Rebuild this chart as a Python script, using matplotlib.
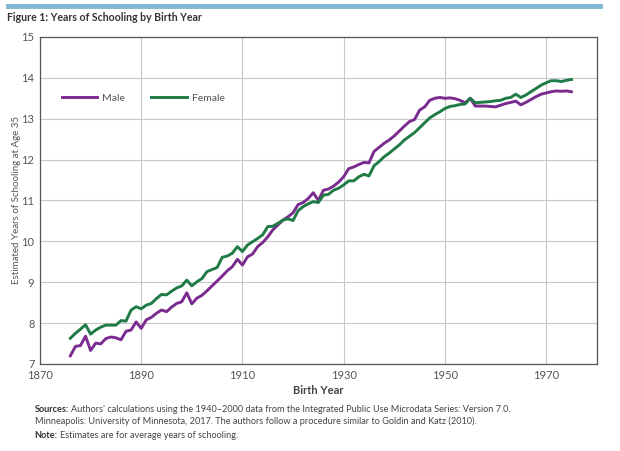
import numpy as np
import matplotlib
matplotlib.use("Agg")
import matplotlib.pyplot as plt
from matplotlib.lines import Line2D
from matplotlib import font_manager

# birth years 1876-1975
years = list(range(1876, 1976))

male = [7.20, 7.43, 7.45, 7.68, 7.33, 7.51, 7.49, 7.62, 7.66, 7.64,
        7.59, 7.80, 7.83, 8.03, 7.87, 8.08, 8.14, 8.24, 8.32, 8.28,
        8.39, 8.48, 8.52, 8.74, 8.47, 8.61, 8.68, 8.79, 8.91, 9.03,
        9.15, 9.28, 9.38, 9.56, 9.42, 9.62, 9.69, 9.87, 9.97, 10.11,
        10.28, 10.40, 10.52, 10.60, 10.70, 10.90, 10.95, 11.05, 11.19, 11.00,
        11.25, 11.28, 11.35, 11.45, 11.58, 11.78, 11.82, 11.88, 11.93, 11.92,
        12.20, 12.30, 12.40, 12.48, 12.58, 12.70, 12.82, 12.93, 12.98, 13.21,
        13.29, 13.45, 13.50, 13.52, 13.50, 13.51, 13.49, 13.45, 13.39, 13.50,
        13.31, 13.31, 13.31, 13.30, 13.29, 13.33, 13.37, 13.40, 13.43, 13.34,
        13.40, 13.47, 13.54, 13.60, 13.63, 13.66, 13.68, 13.67, 13.68, 13.66]

female = [7.63, 7.75, 7.85, 7.96, 7.73, 7.83, 7.90, 7.95, 7.95, 7.95,
          8.06, 8.05, 8.32, 8.40, 8.35, 8.44, 8.48, 8.60, 8.70, 8.69,
          8.78, 8.86, 8.91, 9.05, 8.91, 9.01, 9.09, 9.26, 9.31, 9.36,
          9.61, 9.64, 9.71, 9.87, 9.75, 9.91, 9.99, 10.07, 10.16, 10.36,
          10.37, 10.44, 10.52, 10.55, 10.51, 10.75, 10.85, 10.92, 10.97, 10.95,
          11.13, 11.15, 11.25, 11.30, 11.38, 11.48, 11.48, 11.58, 11.64, 11.60,
          11.85, 11.95, 12.07, 12.16, 12.26, 12.36, 12.48, 12.57, 12.66, 12.78,
          12.90, 13.02, 13.10, 13.17, 13.25, 13.30, 13.32, 13.35, 13.36, 13.50,
          13.39, 13.40, 13.41, 13.42, 13.44, 13.45, 13.50, 13.52, 13.60, 13.52,
          13.58, 13.66, 13.74, 13.82, 13.88, 13.93, 13.93, 13.91, 13.94, 13.96]

x_ticks = [1870, 1890, 1910, 1930, 1950, 1970]
y_ticks = [7, 8, 9, 10, 11, 12, 13, 14, 15]

male_color = "#7a2b8f"
female_color = "#1e7b45"
text_gray = "#555555"

# narrow font for the title and notes if it is there
names = set(f.name for f in font_manager.fontManager.ttflist)
narrow = ["Liberation Sans Narrow", "Lato"] if "Liberation Sans Narrow" in names else ["Lato"]

plt.rcParams["font.family"] = ["Lato", "DejaVu Sans"]

fig = plt.figure(figsize=(6.2, 4.51), dpi=100)
ax = fig.add_axes([0.0645, 0.193, 0.898, 0.725])

ax.plot(years, male, color=male_color, linewidth=2.1, label="Male")
ax.plot(years, female, color=female_color, linewidth=2.1, label="Female")

ax.set_xlim(1870, 1980)
ax.set_ylim(7, 15)
ax.set_xticks(x_ticks)
ax.set_yticks(y_ticks)
ax.grid(True, color="#c8c8c8", linewidth=0.8)
ax.set_axisbelow(True)
ax.tick_params(axis="both", length=0, labelsize=8, labelcolor=text_gray, pad=4)
for s in ax.spines.values():
    s.set_color("#555555")
    s.set_linewidth(0.9)

ax.set_xlabel("Birth Year", fontsize=8, fontweight="bold", color="#444444", labelpad=3)
ax.set_ylabel("Estimated Years of Schooling at Age 35", fontsize=7, color=text_gray, labelpad=0)

ax.legend(loc="center left", bbox_to_anchor=(0.022, 0.813), ncol=2, frameon=False,
          fontsize=7.5, handlelength=3.4, columnspacing=2.5, handletextpad=0.5,
          labelcolor="#555555")

# header bar and title
fig.add_artist(Line2D([0.013, 0.968], [0.987, 0.987], color="#7fb6d2", linewidth=3.5,
                      transform=fig.transFigure))
fig.text(0.012, 0.962, "Figure 1: Years of Schooling by Birth Year", fontsize=7.6,
         fontweight="bold", color="#333333", va="center", ha="left", family=narrow)

# notes, with bold lead words
renderer = fig.canvas.get_renderer()

def note(x, y, bold, rest):
    t = fig.text(x, y, bold, fontsize=6.6, fontweight="bold", color="#333333",
                 va="center", family=narrow)
    w = t.get_window_extent(renderer).width / fig.bbox.width
    fig.text(x + w + 0.004, y, rest, fontsize=6.6, color="#444444",
             va="center", family=narrow)

note(0.056, 0.091, "Sources:", "Authors' calculations using the 1940\u20132000 data from the Integrated Public Use Microdata Series: Version 7.0.")
fig.text(0.056, 0.067, "Minneapolis: University of Minnesota, 2017. The authors follow a procedure similar to Goldin and Katz (2010).",
         fontsize=6.6, color="#444444", va="center", family=narrow)
note(0.056, 0.034, "Note:", "Estimates are for average years of schooling.")

fig.savefig("out.png", dpi=100)
